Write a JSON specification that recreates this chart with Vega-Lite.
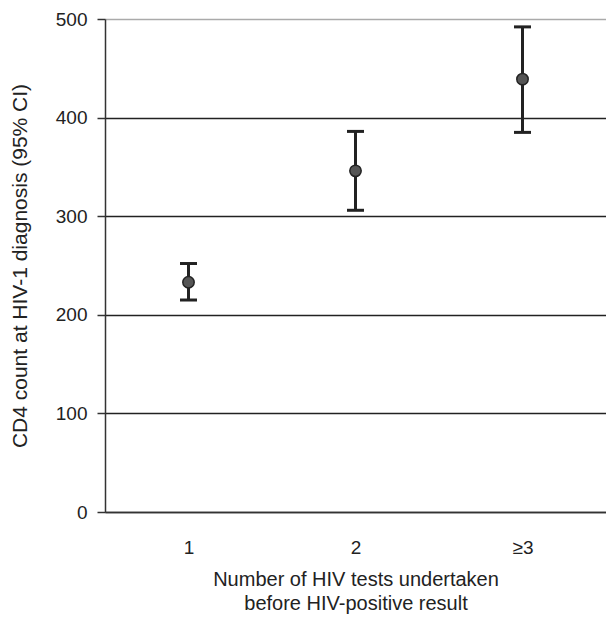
{
  "$schema": "https://vega.github.io/schema/vega-lite/v6.json",
  "width": 501,
  "height": 493,
  "autosize": {"type": "none"},
  "padding": {"left": 105, "top": 19, "right": 0, "bottom": 106},
  "background": "white",
  "config": {
    "view": {"stroke": null},
    "font": "Liberation Sans"
  },
  "data": {
    "values": [
      {"tests": "1", "mean": 233, "lo": 215, "hi": 252},
      {"tests": "2", "mean": 346, "lo": 306, "hi": 386},
      {"tests": "≥3", "mean": 439, "lo": 385, "hi": 492}
    ]
  },
  "encoding": {
    "x": {
      "field": "tests",
      "type": "nominal",
      "sort": ["1", "2", "≥3"],
      "scale": {"type": "point", "padding": 0.5},
      "axis": {
        "title": ["Number of HIV tests undertaken", "before HIV-positive result"],
        "titleFont": "Liberation Sans",
        "titleFontSize": 20,
        "titleFontWeight": "normal",
        "titleColor": "#222",
        "titleLineHeight": 24,
        "titlePadding": 12,
        "labelAngle": 0,
        "labelFontSize": 19,
        "labelColor": "#222",
        "labelPadding": 26,
        "ticks": false,
        "grid": false,
        "domainColor": "#333",
        "domainWidth": 1.5
      }
    }
  },
  "layer": [
    {
      "mark": {"type": "rule", "color": "#222", "strokeWidth": 3},
      "encoding": {
        "y": {
          "field": "lo",
          "type": "quantitative",
          "scale": {"domain": [0, 500], "nice": false},
          "axis": {
            "title": "CD4 count at HIV-1 diagnosis (95% CI)",
            "titleFont": "Liberation Sans",
            "titleFontSize": 21,
            "titleFontWeight": "normal",
            "titleColor": "#222",
            "titlePadding": 25,
            "values": [0, 100, 200, 300, 400, 500],
            "labelFontSize": 19,
            "labelColor": "#222",
            "labelPadding": 10,
            "tickSize": 8,
            "tickColor": "#333",
            "tickWidth": 1.5,
            "domainColor": "#333",
            "domainWidth": 1.5,
            "grid": true,
            "gridColor": {"condition": {"test": "datum.value === 500", "value": "#aaaaaa"}, "value": "#222222"},
            "gridWidth": 1.5
          }
        },
        "y2": {"field": "hi"}
      }
    },
    {
      "mark": {"type": "tick", "color": "#222", "opacity": 1, "thickness": 3, "size": 17, "orient": "horizontal"},
      "encoding": {"y": {"field": "lo", "type": "quantitative"}}
    },
    {
      "mark": {"type": "tick", "color": "#222", "opacity": 1, "thickness": 3, "size": 17, "orient": "horizontal"},
      "encoding": {"y": {"field": "hi", "type": "quantitative"}}
    },
    {
      "mark": {"type": "point", "filled": true, "fill": "#555", "stroke": "#222", "strokeWidth": 1.5, "size": 130, "opacity": 1},
      "encoding": {"y": {"field": "mean", "type": "quantitative"}}
    }
  ]
}
